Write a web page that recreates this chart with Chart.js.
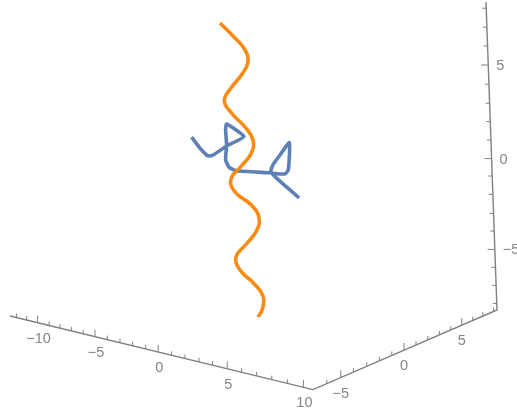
<!DOCTYPE html>
<html>
<head>
<meta charset="utf-8">
<style>
  html, body { margin: 0; padding: 0; background: #fff; overflow: hidden; }
  canvas { display: block; }
</style>
<script src="https://cdn.jsdelivr.net/npm/chart.js@4"></script>
</head>
<body>
<canvas id="plot" width="517" height="416"></canvas>
<script>
// curves, in projected view units
const orangeH = [-1.90,-1.25,-0.68,-0.50,-0.83,-1.35,-1.68,-1.28,-0.65,-0.25,-0.33,-0.83,-1.35,-1.15,-0.33,0.05,-0.08,-0.58,-1.10,-0.90,-0.23,0.25,0.22,0.00];
const orangeV = [6.80,6.15,5.50,4.85,4.20,3.55,2.90,2.25,1.60,0.95,0.30,-0.35,-1.00,-1.65,-2.30,-2.95,-3.60,-4.25,-4.90,-5.55,-6.20,-6.85,-7.50,-7.90];
const blueH = [-3.32,-2.90,-2.49,-2.24,-1.57,-0.70,-1.57,-1.62,-1.57,-1.62,-1.44,-1.07,0.60,1.35,1.52,1.57,1.10,0.74,0.64,0.94,2.05];
const blueV = [1.09,0.54,0.15,0.20,0.65,1.12,1.75,1.45,0.70,-0.05,-0.42,-0.59,-0.69,-0.75,-0.52,0.82,0.20,-0.30,-0.64,-0.97,-1.94];

// box edges: left end, front corner, right corner, top
const boxH = [-12.4, 2.75, 11.95, 11.4];
const boxV = [-7.85, -11.53, -7.55, 7.85];

// tick values and where they fall along each edge (perspective, so uneven)
const xTicks = [-12,-11,-10,-9,-8,-7,-6,-5,-4,-3,-2,-1,0,1,2,3,4,5,6,7,8,9,10];
const xTickH = [-12.07,-11.57,-11.02,-10.44,-9.9,-9.32,-8.74,-8.15,-7.54,-6.9,-6.27,-5.62,-4.99,-4.32,-3.65,-2.95,-2.27,-1.54,-0.82,-0.07,0.69,1.47,2.27];
const yTicks = [-6,-5,-4,-3,-2,-1,0,1,2,3,4,5,6,7,8];
const yTickH = [3.44,4.14,4.77,5.44,6.07,6.69,7.3,7.9,8.49,9.07,9.64,10.19,10.74,11.24,11.77];
const zTicks = [8,7,6,5,4,3,2,1,0,-1,-2,-3,-4,-5,-6,-7,-8];
const zTickV = [7.54,6.59,5.65,4.7,3.74,2.79,1.87,0.95,0.02,-0.85,-1.77,-2.72,-3.6,-4.52,-5.42,-6.32,-7.22];

const xLabels = [-10,-5,0,5,10];
const yLabels = [-5,0,5];
const zLabels = [5,0,-5];

const GREY = '#808080';

function toPoints(hs, vs) {
  return hs.map((h, i) => ({ x: h, y: vs[i] }));
}

function edgeV(i, h) {
  const t = (h - boxH[i]) / (boxH[i + 1] - boxH[i]);
  return boxV[i] + t * (boxV[i + 1] - boxV[i]);
}

function edgeH(i, v) {
  const t = (v - boxV[i]) / (boxV[i + 1] - boxV[i]);
  return boxH[i] + t * (boxH[i + 1] - boxH[i]);
}

function tickAt(value) {
  return value % 5 === 0 ? 0.36 : 0.2;
}

// one dataset for all ticks, split up with null gaps
const tickPoints = [];
xTicks.forEach((t, i) => {
  const v = edgeV(0, xTickH[i]);
  tickPoints.push({ x: xTickH[i], y: v }, { x: xTickH[i], y: v + tickAt(t) }, { x: null, y: null });
});
yTicks.forEach((t, i) => {
  const v = edgeV(1, yTickH[i]);
  tickPoints.push({ x: yTickH[i], y: v }, { x: yTickH[i], y: v + tickAt(t) }, { x: null, y: null });
});
zTicks.forEach((t, i) => {
  const h = edgeH(2, zTickV[i]);
  tickPoints.push({ x: h, y: zTickV[i] }, { x: h - tickAt(t), y: zTickV[i] }, { x: null, y: null });
});

const tickText = {
  id: 'tickText',
  afterDraw(chart) {
    const ctx = chart.ctx;
    const sx = chart.scales.x, sy = chart.scales.y;
    const minus = n => String(n).replace('-', '\u2212');
    ctx.save();
    ctx.fillStyle = '#858585';
    ctx.font = '14.5px "Liberation Sans", sans-serif';
    ctx.textBaseline = 'middle';
    ctx.textAlign = 'center';
    xLabels.forEach(n => {
      const h = xTickH[xTicks.indexOf(n)];
      ctx.fillText(minus(n), sx.getPixelForValue(h) + 1, sy.getPixelForValue(edgeV(0, h)) + 16);
    });
    yLabels.forEach(n => {
      const h = yTickH[yTicks.indexOf(n)];
      ctx.fillText(minus(n), sx.getPixelForValue(h), sy.getPixelForValue(edgeV(1, h)) + 16);
    });
    ctx.textAlign = 'left';
    zLabels.forEach(n => {
      const v = zTickV[zTicks.indexOf(n)];
      ctx.fillText(minus(n), sx.getPixelForValue(edgeH(2, v)) + 8, sy.getPixelForValue(v) + 1);
    });
    ctx.restore();
  }
};

new Chart(document.getElementById('plot').getContext('2d'), {
  type: 'scatter',
  data: {
    datasets: [
      { label: 'orange', data: toPoints(orangeH, orangeV), showLine: true, borderColor: '#f98a12', borderWidth: 3.6, tension: 0.45, borderJoinStyle: 'round', pointRadius: 0, order: 1 },
      { label: 'blue', data: toPoints(blueH, blueV), showLine: true, borderColor: '#5e81b5', borderWidth: 3.6, tension: 0.15, borderJoinStyle: 'round', pointRadius: 0, order: 2 },
      { label: 'box', data: toPoints(boxH, boxV), showLine: true, borderColor: GREY, borderWidth: 1.4, pointRadius: 0, order: 3 },
      { label: 'ticks', data: tickPoints, showLine: true, spanGaps: false, borderColor: GREY, borderWidth: 1, pointRadius: 0, order: 4 }
    ]
  },
  options: {
    responsive: false,
    animation: false,
    layout: { padding: 0 },
    plugins: { legend: { display: false }, tooltip: { enabled: false } },
    scales: {
      x: { type: 'linear', display: false, min: -12.9, max: 12.95 },
      y: { type: 'linear', display: false, min: -12.85, max: 7.95 }
    }
  },
  plugins: [tickText]
});
</script>
</body>
</html>
